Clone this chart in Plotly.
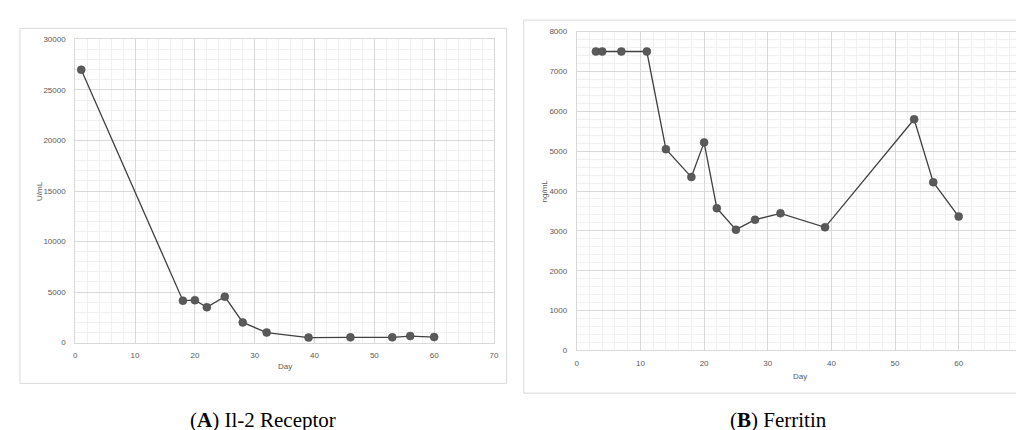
import plotly.graph_objects as go

# Panel A: IL-2 receptor (U/mL)
il2_day = [1, 18, 20, 22, 25, 28, 32, 39, 46, 53, 56, 60]
il2_val = [27000, 4150, 4200, 3500, 4550, 2000, 1000, 500, 520, 520, 650, 550]

# Panel B: Ferritin (ng/mL)
fer_day = [3, 4, 7, 11, 14, 18, 20, 22, 25, 28, 32, 39, 53, 56, 60]
fer_val = [7500, 7500, 7500, 7500, 5050, 4350, 5220, 3570, 3030, 3280, 3440, 3090, 5800, 4220, 3360]

x_ticks = [0, 10, 20, 30, 40, 50, 60, 70]
yA_ticks = [0, 5000, 10000, 15000, 20000, 25000, 30000]
yB_ticks = [0, 1000, 2000, 3000, 4000, 5000, 6000, 7000, 8000]

W, H = 1024, 430
def px(x): return x / W
def py(y): return 1 - y / H

LINE = "#404040"
MARK = "#5a5a5a"
GRID = "#d9d9d9"
MINOR = "#f0f0f0"
TICK = dict(family="Liberation Sans, Arial, sans-serif", size=8, color="#595959")
CAP = dict(family="Liberation Serif, Times New Roman, serif", size=21, color="black")

fig = go.Figure()
fig.add_trace(go.Scatter(x=il2_day, y=il2_val, mode="lines+markers",
                         line=dict(color=LINE, width=1.3),
                         marker=dict(color=MARK, size=8, line=dict(color="#4a4a4a", width=0.5)),
                         xaxis="x", yaxis="y", showlegend=False))
fig.add_trace(go.Scatter(x=fer_day, y=fer_val, mode="lines+markers",
                         line=dict(color=LINE, width=1.3),
                         marker=dict(color=MARK, size=8, line=dict(color="#4a4a4a", width=0.5)),
                         xaxis="x2", yaxis="y2", showlegend=False))

def xax(domain, anchor, labels):
    return dict(domain=domain, anchor=anchor, range=[0, 70], tickvals=x_ticks, ticktext=labels,
                showgrid=True, gridcolor=GRID, gridwidth=1, zeroline=False,
                showline=True, linecolor=GRID, mirror=True, ticks="",
                tickfont=TICK, ticklabelstandoff=5,
                minor=dict(dtick=2, tick0=0, showgrid=True, gridcolor=MINOR, gridwidth=1))

def yax(domain, anchor, rng, vals, mdt):
    return dict(domain=domain, anchor=anchor, range=rng, tickvals=vals,
                ticktext=[str(v) for v in vals],
                showgrid=True, gridcolor=GRID, gridwidth=1, zeroline=False,
                showline=True, linecolor=GRID, mirror=True, ticks="",
                tickfont=TICK, ticklabelstandoff=7,
                minor=dict(dtick=mdt, tick0=0, showgrid=True, gridcolor=MINOR, gridwidth=1))

labels_A = [str(v) for v in x_ticks]
labels_B = [str(v) for v in x_ticks[:-1]] + [""]

fig.update_layout(
    width=W, height=H, margin=dict(l=0, r=0, t=0, b=0),
    paper_bgcolor="white", plot_bgcolor="white",
    xaxis=xax([px(65.7), px(487.3)], "y", labels_A),
    yaxis=yax([py(337.7), py(28)], "x", [0, 30000], yA_ticks, 1000),
    xaxis2=xax([px(570.7), px(1019.3)], "y2", labels_B),
    yaxis2=yax([py(345.7), py(20)], "x2", [0, 8000], yB_ticks, 200),
    shapes=[
        dict(type="rect", xref="paper", yref="paper", x0=px(10), x1=px(500), y0=py(379.3), y1=py(16.7),
             line=dict(color="#d9d9d9", width=1), fillcolor="rgba(0,0,0,0)", layer="below"),
        dict(type="rect", xref="paper", yref="paper", x0=px(517.3), x1=px(1023.5), y0=py(389.3), y1=py(8.3),
             line=dict(color="#d9d9d9", width=1), fillcolor="rgba(0,0,0,0)", layer="below"),
    ],
    annotations=[
        dict(text=str(x_ticks[-1]), xref="paper", yref="paper", x=px(1023.5), y=py(358),
             showarrow=False, font=TICK, xanchor="right", yanchor="middle"),
        dict(text="U/mL", xref="paper", yref="paper", x=px(29), y=py(183), textangle=-90,
             showarrow=False, font=TICK, xanchor="center", yanchor="middle"),
        dict(text="ng/mL", xref="paper", yref="paper", x=px(538), y=py(183), textangle=-90,
             showarrow=False, font=TICK, xanchor="center", yanchor="middle"),
        dict(text="Day", xref="paper", yref="paper", x=px(276.5), y=py(362), showarrow=False,
             font=TICK, xanchor="center", yanchor="middle"),
        dict(text="Day", xref="paper", yref="paper", x=px(795), y=py(372), showarrow=False,
             font=TICK, xanchor="center", yanchor="middle"),
        dict(text="(<b>A</b>) Il-2 Receptor", xref="paper", yref="paper", x=px(255), y=py(417),
             showarrow=False, xanchor="center", yanchor="middle", font=CAP),
        dict(text="(<b>B</b>) Ferritin", xref="paper", yref="paper", x=px(774), y=py(417),
             showarrow=False, xanchor="center", yanchor="middle", font=CAP),
    ],
)

fig.write_html("out.html")
